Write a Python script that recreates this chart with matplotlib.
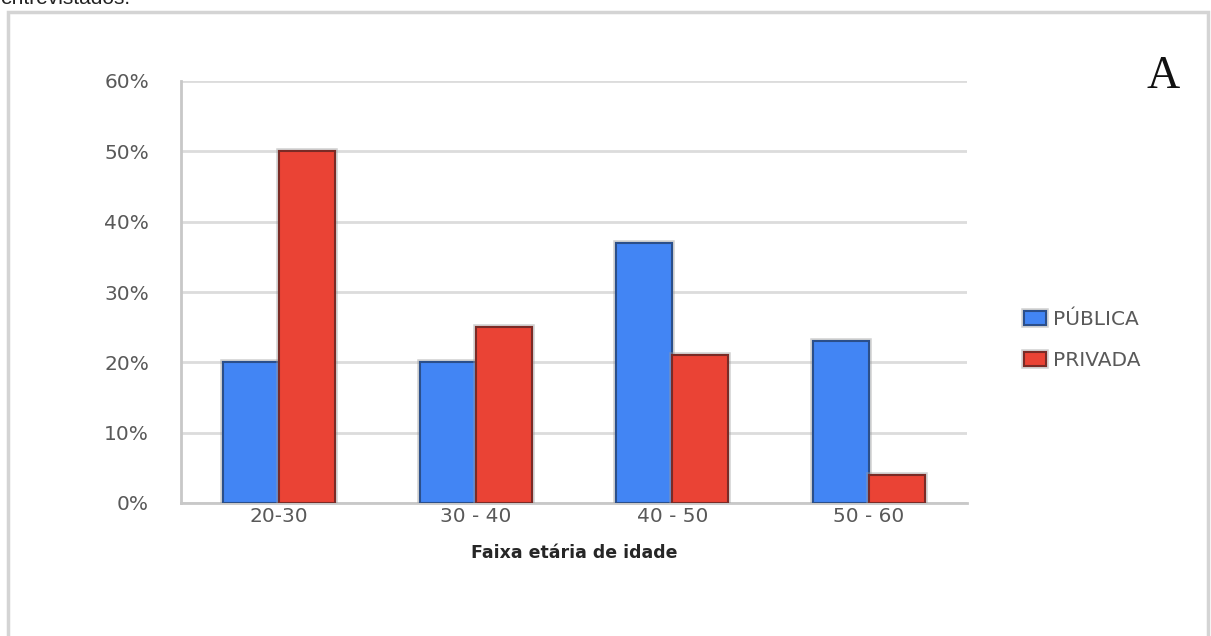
import matplotlib.pyplot as plt
import matplotlib.patheffects as pe
from matplotlib.patches import Rectangle
from matplotlib.ticker import PercentFormatter
import numpy as np

faixas = ["20-30", "30 - 40", "40 - 50", "50 - 60"]
publica = [20, 20, 37, 23]
privada = [50, 25, 21, 4]
y_ticks = [0, 10, 20, 30, 40, 50, 60]

azul = "#4285F4"
vermelho = "#EA4335"
cinza_txt = "#595959"

fig = plt.figure(figsize=(12.11, 6.36), dpi=100)

# moldura cinza em volta do gráfico (continua abaixo do corte)
fig.patches.append(Rectangle((8 / 1211, -0.05), 1200 / 1211, 1.05 - 12 / 636,
                             transform=fig.transFigure, fill=False,
                             ec="#d4d4d4", lw=2.5))

# resto da legenda da figura, cortado no topo
fig.text(0.0, 1 - 4 / 636, "entrevistados.", family="Liberation Sans",
         fontsize=15, color="#222222", va="baseline", ha="left")

ax = fig.add_axes([181 / 1211, 1 - 503 / 636, (967 - 181) / 1211, (503 - 81) / 636])

x = np.arange(len(faixas))
w = 0.285
sombra = [pe.Stroke(linewidth=4, foreground="#9a9a9a", alpha=0.45), pe.Normal()]
b1 = ax.bar(x - w / 2, publica, w, color=azul, edgecolor="#2b4f8a", lw=1.5,
            label="PÚBLICA", zorder=3)
b2 = ax.bar(x + w / 2, privada, w, color=vermelho, edgecolor="#7a2b26", lw=1.5,
            label="PRIVADA", zorder=3)
for b in list(b1) + list(b2):
    b.set_path_effects(sombra)

ax.set_xlim(-0.5, len(faixas) - 0.5)
ax.set_ylim(0, 60)
ax.set_yticks(y_ticks)
ax.yaxis.set_major_formatter(PercentFormatter(decimals=0))
ax.set_xticks(x)
ax.set_xticklabels(faixas)
ax.tick_params(length=0, labelsize=14.5, labelcolor=cinza_txt)
ax.tick_params(axis="y", pad=23)
ax.tick_params(axis="x", pad=3)
ax.grid(axis="y", color="#dcdcdc", lw=2, zorder=0)
ax.set_axisbelow(True)

for s in ["top", "right"]:
    ax.spines[s].set_visible(False)
ax.spines["left"].set_color("#c8c8c8")
ax.spines["left"].set_linewidth(2)
ax.spines["bottom"].set_color("#c8c8c8")
ax.spines["bottom"].set_linewidth(2)

ax.set_xlabel("Faixa etária de idade", fontsize=12.5, fontweight="bold",
              color="#262626", labelpad=13)

fig.legend(handles=[b1, b2], loc="center left",
           bbox_to_anchor=(1006 / 1211, 1 - 340 / 636), frameon=False,
           fontsize=14.5, labelcolor=cinza_txt, handlelength=1.1,
           handleheight=0.7, handletextpad=0.35, labelspacing=1.1)

fig.text(1163 / 1211, 1 - 77 / 636, "A", family="Liberation Serif",
         fontsize=33, color="#111111", ha="center", va="center")

fig.savefig("out.png", dpi=100)
